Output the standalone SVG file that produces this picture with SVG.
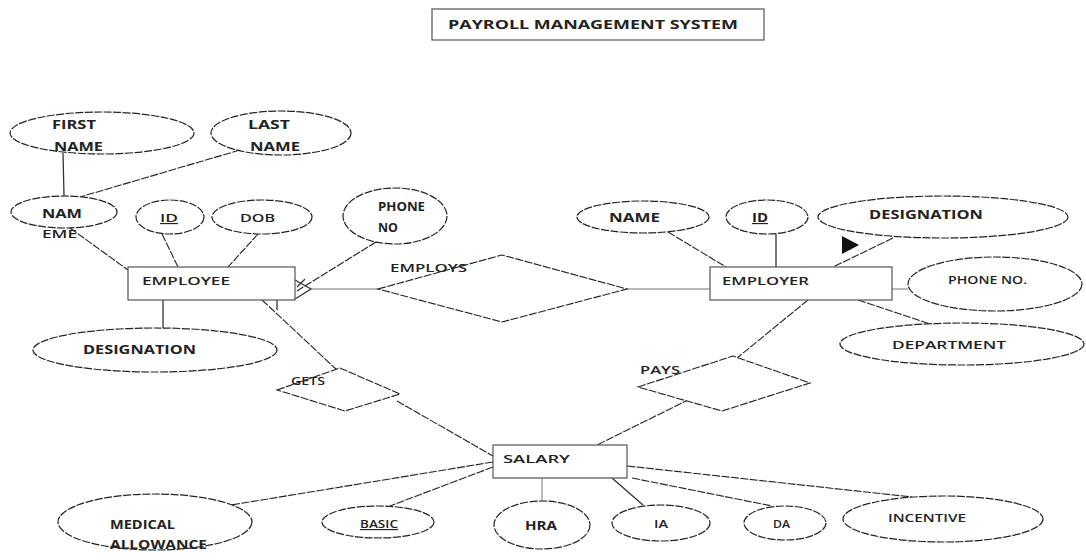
<svg xmlns="http://www.w3.org/2000/svg" width="1086" height="560" viewBox="0 0 1086 560">
  <style>
    .bg { fill: #ffffff; }
    .attr { fill: #ffffff; stroke: #222; stroke-width: 1.2; stroke-dasharray: 8 1.5; }
    .ent { fill: #ffffff; stroke: #555; stroke-width: 1.2; }
    .rel { fill: #ffffff; stroke: #222; stroke-width: 1.1; stroke-dasharray: 8 1.5; }
    .dash { fill: none; stroke: #222; stroke-width: 1.1; stroke-dasharray: 8 1.5; }
    .solid { fill: none; stroke: #333; stroke-width: 1.3; }
    .thin { fill: none; stroke: #777; stroke-width: 1; }
    text { font-family: "Open Sans", "Liberation Sans", Arial, sans-serif; font-size: 11.5px; font-weight: 600; fill: #222; }
    .b { font-weight: 700; }
    .ul { text-decoration: underline; }
  </style>

  <rect class="bg" x="0" y="0" width="1086" height="560"/>

  <!-- title -->
  <g id="title">
    <rect x="432" y="9" width="332" height="31" fill="#fff" stroke="#555" stroke-width="1.2"/>
    <text class="b" x="448" y="29" textLength="290" lengthAdjust="spacingAndGlyphs">PAYROLL  MANAGEMENT SYSTEM</text>
  </g>

  <!-- connectors -->
  <g id="connectors">
    <!-- employee side -->
    <line class="solid" x1="63" y1="153" x2="64" y2="196"/>
    <line class="dash" x1="240" y1="150" x2="80" y2="197"/>
    <line class="dash" x1="70" y1="228" x2="128" y2="270"/>
    <line class="dash" x1="162" y1="234" x2="178" y2="267"/>
    <line class="dash" x1="258" y1="234" x2="228" y2="267"/>
    <line class="dash" x1="376" y1="242" x2="297" y2="291"/>
    <line class="solid" x1="163" y1="300" x2="163" y2="328"/>
    <!-- crow's foot on employee -->
    <polyline class="solid" points="295,280 311,289 295,299"/>
    <line class="solid" x1="297" y1="287" x2="305" y2="279"/>
    <line class="thin" x1="311" y1="289" x2="378" y2="289"/>
    <line class="solid" x1="277" y1="300" x2="277" y2="310"/>
    <line class="dash" x1="262" y1="300" x2="337" y2="370"/>
    <line class="dash" x1="397" y1="401" x2="493" y2="456"/>
    <!-- employer side -->
    <line class="thin" x1="627" y1="289" x2="710" y2="289"/>
    <line class="dash" x1="668" y1="232" x2="726" y2="267"/>
    <line class="solid" x1="776" y1="234" x2="776" y2="267"/>
    <line class="dash" x1="893" y1="238" x2="833" y2="267"/>
    <polygon points="842,236 859,245 842,254" fill="#111"/>
    <line class="thin" x1="892" y1="289" x2="908" y2="289"/>
    <line class="dash" x1="858" y1="300" x2="930" y2="324"/>
    <line class="dash" x1="808" y1="300" x2="737" y2="358"/>
    <line class="dash" x1="690" y1="399" x2="597" y2="445"/>
    <!-- salary attributes -->
    <line class="dash" x1="493" y1="462" x2="225" y2="506"/>
    <line class="dash" x1="493" y1="467" x2="390" y2="506"/>
    <line class="thin" x1="542" y1="478" x2="542" y2="503"/>
    <line class="solid" x1="612" y1="478" x2="643" y2="505"/>
    <line class="dash" x1="632" y1="478" x2="772" y2="506"/>
    <line class="dash" x1="627" y1="466" x2="912" y2="497"/>
  </g>

  <!-- employee attributes -->
  <g id="first-name">
    <ellipse class="attr" cx="102" cy="133" rx="92" ry="21"/>
    <text class="b" x="52" y="129" textLength="44" lengthAdjust="spacingAndGlyphs">FIRST</text>
    <text class="b" x="54" y="151" textLength="49" lengthAdjust="spacingAndGlyphs">NAME</text>
  </g>
  <g id="last-name">
    <ellipse class="attr" cx="281" cy="133" rx="70" ry="22"/>
    <text class="b" x="248" y="129" textLength="42" lengthAdjust="spacingAndGlyphs">LAST</text>
    <text class="b" x="250" y="151" textLength="50" lengthAdjust="spacingAndGlyphs">NAME</text>
  </g>
  <g id="emp-name">
    <ellipse class="attr" cx="64" cy="212" rx="53" ry="16"/>
    <text class="b" x="42" y="218" textLength="40" lengthAdjust="spacingAndGlyphs">NAM</text>
    <text x="42" y="238" textLength="35" lengthAdjust="spacingAndGlyphs">EME</text>
  </g>
  <g id="emp-id">
    <ellipse class="attr" cx="170" cy="217" rx="34" ry="17"/>
    <text class="ul" x="160" y="222" textLength="18" lengthAdjust="spacingAndGlyphs">ID</text>
  </g>
  <g id="emp-dob">
    <ellipse class="attr" cx="262" cy="217" rx="50" ry="17"/>
    <text x="240" y="222" textLength="35" lengthAdjust="spacingAndGlyphs">DOB</text>
  </g>
  <g id="emp-phone">
    <ellipse class="attr" cx="395" cy="216" rx="52" ry="28"/>
    <text class="b" x="378" y="211" textLength="47" lengthAdjust="spacingAndGlyphs">PHONE</text>
    <text class="b" x="378" y="232" textLength="20" lengthAdjust="spacingAndGlyphs">NO</text>
  </g>
  <g id="emp-designation">
    <ellipse class="attr" cx="155" cy="350" rx="122" ry="22"/>
    <text class="b" x="83" y="354" textLength="113" lengthAdjust="spacingAndGlyphs">DESIGNATION</text>
  </g>

  <!-- entities -->
  <g id="employee">
    <rect class="ent" x="128" y="267" width="167" height="33"/>
    <text x="142" y="285" textLength="88" lengthAdjust="spacingAndGlyphs">EMPLOYEE</text>
  </g>
  <g id="employer">
    <rect class="ent" x="710" y="267" width="182" height="33"/>
    <text x="722" y="285" textLength="87" lengthAdjust="spacingAndGlyphs">EMPLOYER</text>
  </g>
  <g id="salary">
    <rect class="ent" x="493" y="445" width="134" height="33"/>
    <text x="503" y="463" textLength="67" lengthAdjust="spacingAndGlyphs">SALARY</text>
  </g>

  <!-- relationships -->
  <g id="employs">
    <polygon class="rel" points="378,289 502,255 627,289 502,322"/>
    <text x="390" y="272" textLength="77" lengthAdjust="spacingAndGlyphs">EMPLOYS</text>
  </g>
  <g id="gets">
    <polygon class="rel" points="277,390 340,368 400,394 345,411"/>
    <text x="291" y="385" textLength="34" lengthAdjust="spacingAndGlyphs">GETS</text>
  </g>
  <g id="pays">
    <polygon class="rel" points="638,387 733,356 810,383 722,411"/>
    <text x="640" y="374" textLength="40" lengthAdjust="spacingAndGlyphs">PAYS</text>
  </g>

  <!-- employer attributes -->
  <g id="employer-name">
    <ellipse class="attr" cx="643" cy="217" rx="66" ry="16"/>
    <text class="b" x="609" y="222" textLength="51" lengthAdjust="spacingAndGlyphs">NAME</text>
  </g>
  <g id="employer-id">
    <ellipse class="attr" cx="767" cy="217" rx="41" ry="17"/>
    <text class="b ul" x="752" y="222" textLength="16" lengthAdjust="spacingAndGlyphs">ID</text>
  </g>
  <g id="employer-designation">
    <ellipse class="attr" cx="943" cy="217" rx="125" ry="21"/>
    <text class="b" x="869" y="219" textLength="114" lengthAdjust="spacingAndGlyphs">DESIGNATION</text>
  </g>
  <g id="employer-phone">
    <ellipse class="attr" cx="995" cy="284" rx="87" ry="27"/>
    <text x="948" y="284" textLength="79" lengthAdjust="spacingAndGlyphs">PHONE NO.</text>
  </g>
  <g id="employer-department">
    <ellipse class="attr" cx="962" cy="344" rx="122" ry="21"/>
    <text x="892" y="349" textLength="114" lengthAdjust="spacingAndGlyphs">DEPARTMENT</text>
  </g>

  <!-- salary attributes -->
  <g id="medical-allowance">
    <ellipse class="attr" cx="155" cy="522" rx="97" ry="28"/>
    <text class="b" x="110" y="529" textLength="65" lengthAdjust="spacingAndGlyphs">MEDICAL</text>
    <text class="b" x="110" y="549" textLength="97" lengthAdjust="spacingAndGlyphs">ALLOWANCE</text>
  </g>
  <g id="basic">
    <ellipse class="attr" cx="378" cy="522" rx="56" ry="16"/>
    <text class="ul" x="360" y="528" textLength="38" lengthAdjust="spacingAndGlyphs">BASIC</text>
  </g>
  <g id="hra">
    <ellipse class="attr" cx="542" cy="525" rx="48" ry="24"/>
    <text class="b" x="525" y="530" textLength="32" lengthAdjust="spacingAndGlyphs">HRA</text>
  </g>
  <g id="ia">
    <ellipse class="attr" cx="661" cy="523" rx="49" ry="18"/>
    <text x="654" y="528" textLength="14" lengthAdjust="spacingAndGlyphs">IA</text>
  </g>
  <g id="da">
    <ellipse class="attr" cx="785" cy="523" rx="41" ry="17"/>
    <text x="773" y="528" textLength="17" lengthAdjust="spacingAndGlyphs">DA</text>
  </g>
  <g id="incentive">
    <ellipse class="attr" cx="943" cy="519" rx="100" ry="23"/>
    <text x="888" y="522" textLength="78" lengthAdjust="spacingAndGlyphs">INCENTIVE</text>
  </g>
</svg>
